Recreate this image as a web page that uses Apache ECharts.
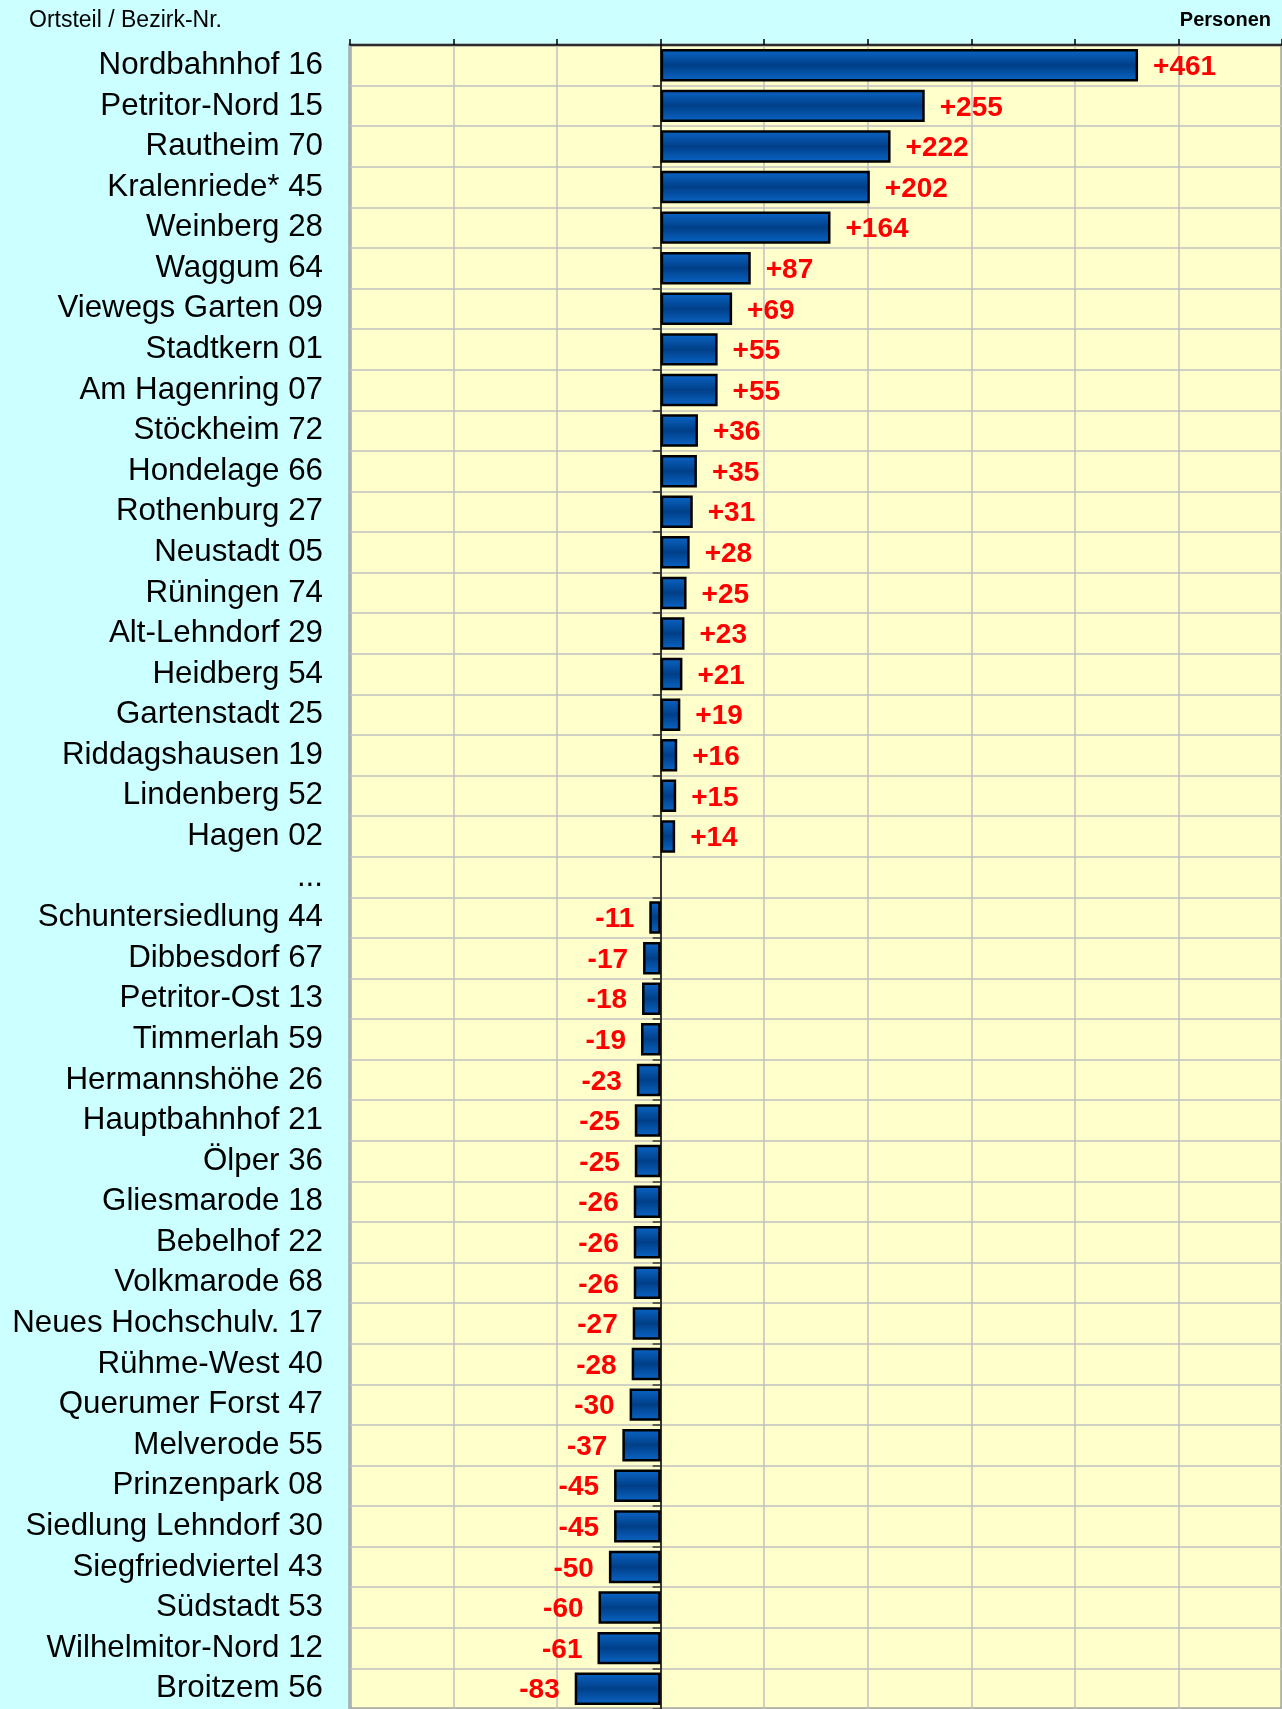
<!DOCTYPE html>
<html>
<head>
<meta charset="utf-8">
<script src="https://cdn.jsdelivr.net/npm/echarts@6/dist/echarts.min.js"></script>
<style>
html,body{margin:0;padding:0;background:#ccffff;}
#chart{width:1282px;height:1709px;}
</style>
</head>
<body>
<div id="chart"></div>
<script>
const categories = [
  'Nordbahnhof 16','Petritor-Nord 15','Rautheim 70','Kralenriede* 45','Weinberg 28',
  'Waggum 64','Viewegs Garten 09','Stadtkern 01','Am Hagenring 07','Stöckheim 72',
  'Hondelage 66','Rothenburg 27','Neustadt 05','Rüningen 74','Alt-Lehndorf 29',
  'Heidberg 54','Gartenstadt 25','Riddagshausen 19','Lindenberg 52','Hagen 02',
  '...',
  'Schuntersiedlung 44','Dibbesdorf 67','Petritor-Ost 13','Timmerlah 59','Hermannshöhe 26',
  'Hauptbahnhof 21','Ölper 36','Gliesmarode 18','Bebelhof 22','Volkmarode 68',
  'Neues Hochschulv. 17','Rühme-West 40','Querumer Forst 47','Melverode 55','Prinzenpark 08',
  'Siedlung Lehndorf 30','Siegfriedviertel 43','Südstadt 53','Wilhelmitor-Nord 12','Broitzem 56'
];
const values = [
  461, 255, 222, 202, 164,
  87, 69, 55, 55, 36,
  35, 31, 28, 25, 23,
  21, 19, 16, 15, 14,
  null,
  -11, -17, -18, -19, -23,
  -25, -25, -26, -26, -26,
  -27, -28, -30, -37, -45,
  -45, -50, -60, -61, -83
];
const xTicks = { min: -300, max: 600, interval: 100 };
const axisTitle = 'Ortsteil / Bezirk-Nr.';
const unitTitle = 'Personen';

const seriesData = values.map(v => ({
  value: v,
  label: { position: (v !== null && v < 0) ? 'left' : 'right' }
}));

const chart = echarts.init(document.getElementById('chart'), null, { renderer: 'canvas' });
const fontFam = '"Liberation Sans", Arial, sans-serif';
chart.setOption({
  backgroundColor: '#ccffff',
  animation: false,
  title: [
    { text: axisTitle, left: 29, top: 9, padding: 0,
      textStyle: { fontFamily: fontFam, fontSize: 23, fontWeight: 'normal', color: '#000' } },
    { text: unitTitle, right: 11, top: 10, padding: 0,
      textStyle: { fontFamily: fontFam, fontSize: 20, fontWeight: 'bold', color: '#000' } }
  ],
  grid: {
    left: 350, top: 45, right: -3, height: 1671,
    show: true, backgroundColor: '#ffffcc', borderColor: '#808080', borderWidth: 3,
    containLabel: false
  },
  xAxis: {
    type: 'value', position: 'top',
    min: xTicks.min, max: xTicks.max, interval: xTicks.interval,
    axisLine: { show: true, onZero: false, lineStyle: { color: '#000', width: 1.5 } },
    axisTick: { show: true, length: 6, lineStyle: { color: '#000', width: 1.5 } },
    axisLabel: { show: false },
    splitLine: { show: true, lineStyle: { color: '#c0c0c0', width: 1.5 } }
  },
  yAxis: [
    {
      type: 'category', data: categories, inverse: true, position: 'left',
      axisLine: { show: false, onZero: false },
      axisTick: { show: false },
      axisLabel: { show: true, margin: 27, fontFamily: fontFam, fontSize: 31.3, color: '#000', interval: 0 },
      splitLine: { show: true, interval: 0, lineStyle: { color: '#c0c0c0', width: 1.5 } }
    },
    {
      type: 'category', data: categories, inverse: true, position: 'left',
      axisLine: { show: true, onZero: true, onZeroAxisIndex: 0, lineStyle: { color: '#000', width: 1.5 } },
      axisTick: { show: true, length: 8, interval: 0, lineStyle: { color: '#333', width: 1.5 } },
      axisLabel: { show: false },
      splitLine: { show: false }
    }
  ],
  series: [{
    type: 'bar',
    yAxisIndex: 0,
    data: seriesData,
    barWidth: '80%',
    itemStyle: {
      borderColor: '#000', borderWidth: 2.5,
      color: new echarts.graphic.LinearGradient(0, 0, 0, 1, [
        { offset: 0, color: '#0a66c8' },
        { offset: 0.5, color: '#003f88' },
        { offset: 1, color: '#0a66c8' }
      ])
    },
    label: {
      show: true, distance: 15, offset: [0, 2],
      fontFamily: fontFam, fontSize: 28, fontWeight: 'bold', color: '#ff0000',
      formatter: p => (p.value > 0 ? '+' : '') + p.value
    }
  }]
});
</script>
</body>
</html>
